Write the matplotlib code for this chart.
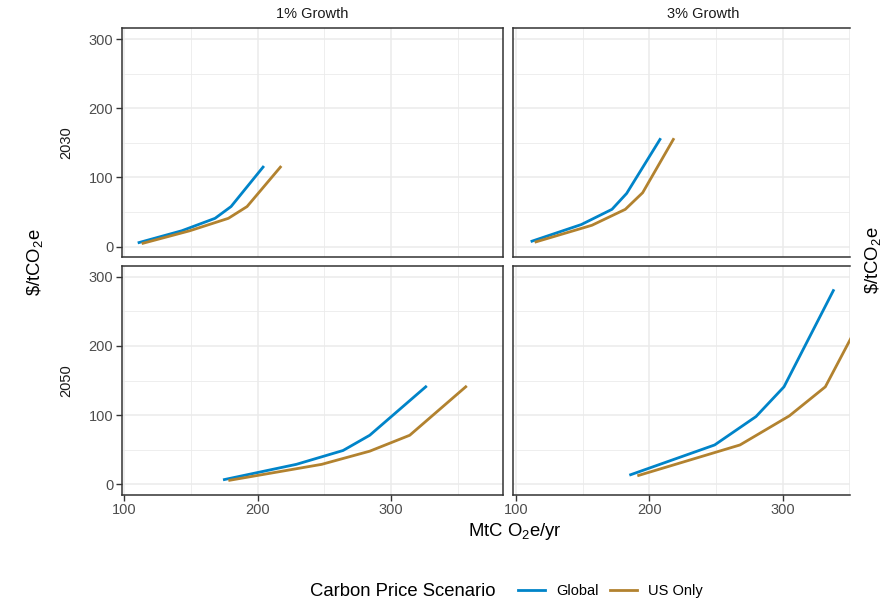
import numpy as np
import matplotlib as mpl
import matplotlib.pyplot as plt
from matplotlib.lines import Line2D

# emissions (MtCO2e/yr) vs carbon price ($/tCO2e), one pair of lists per panel
g1_2030_x = [111, 143, 168, 180, 204]
g1_2030_y = [6, 23, 41, 58, 115]
u1_2030_x = [114, 149, 178, 192, 217]
u1_2030_y = [5, 23, 41, 58, 115]

g3_2030_x = [112, 149, 172, 183, 208]
g3_2030_y = [8, 32, 54, 77, 155]
u3_2030_x = [115, 157, 182, 195, 218]
u3_2030_y = [7, 31, 54, 78, 155]

g1_2050_x = [175, 229, 264, 284, 326]
g1_2050_y = [7, 29, 49, 71, 141]
u1_2050_x = [179, 248, 284, 314, 356]
u1_2050_y = [6, 29, 48, 71, 141]

g3_2050_x = [186, 249, 280, 301, 338]
g3_2050_y = [14, 57, 98, 141, 280]
u3_2050_x = [192, 268, 305, 332, 370]
u3_2050_y = [13, 57, 99, 141, 280]

col_labels = ['1% Growth', '3% Growth']
row_labels = ['2030', '2050']
series_names = ['Global', 'US Only']
colors = ['#0084C9', '#B2822F']

mpl.rcParams['font.family'] = ['Liberation Sans', 'DejaVu Sans']
mpl.rcParams['mathtext.fontset'] = 'custom'
mpl.rcParams['mathtext.rm'] = 'Liberation Sans'
mpl.rcParams['mathtext.it'] = 'Liberation Sans:italic'

small = 10.5
big = 13.3

panels = {
    (0, 0): [(g1_2030_x, g1_2030_y), (u1_2030_x, u1_2030_y)],
    (0, 1): [(g3_2030_x, g3_2030_y), (u3_2030_x, u3_2030_y)],
    (1, 0): [(g1_2050_x, g1_2050_y), (u1_2050_x, u1_2050_y)],
    (1, 1): [(g3_2050_x, g3_2050_y), (u3_2050_x, u3_2050_y)],
}

W, H = 884, 606
fig = plt.figure(figsize=(W / 100, H / 100), dpi=100)

lefts = [121.7, 513.3]
rights = [503.0, 850.0]
tops = [28.3, 266.0]
bottoms = [257.3, 495.0]
x_lo = 98.0
px_per_x = 1.3335

for (r, c), lines in panels.items():
    l, rt = lefts[c], rights[c]
    ax = fig.add_axes([l / W, 1 - bottoms[r] / H, (rt - l) / W, (bottoms[r] - tops[r]) / H])
    ax.set_xlim(x_lo, x_lo + (rt - l) / px_per_x)
    ax.set_ylim(-15.3, 315.5)
    ax.set_xticks([100, 200, 300])
    ax.set_xticks([150, 250, 350], minor=True)
    ax.set_yticks([0, 100, 200, 300])
    ax.set_yticks([50, 150, 250], minor=True)
    ax.grid(True, which='major', color='#EBEBEB', lw=1.1)
    ax.grid(True, which='minor', color='#EBEBEB', lw=0.6)
    ax.set_axisbelow(True)
    for (xs, ys), col in zip(lines, colors):
        ax.plot(xs, ys, color=col, lw=2)
    for s in ax.spines.values():
        s.set_color('#333333')
        s.set_linewidth(1.1)
    if c == 1:
        ax.spines['right'].set_visible(False)
    ax.tick_params(which='minor', length=0)
    ax.tick_params(which='major', length=4, width=1, color='#333333',
                   labelcolor='#4D4D4D', labelsize=small, pad=2)
    if r == 0:
        ax.tick_params(axis='x', bottom=False, labelbottom=False)
    if c == 1:
        ax.tick_params(axis='y', left=False, labelleft=False)

for c, lab in enumerate(col_labels):
    xc = [312, 703][c]
    fig.text(xc / W, 1 - 14.5 / H, lab, ha='center', va='center', fontsize=small, color='#1A1A1A')
for r, lab in enumerate(row_labels):
    yc = (tops[r] + bottoms[r]) / 2
    fig.text(66 / W, 1 - yc / H, lab, ha='center', va='center', rotation=90,
             fontsize=small, color='#1A1A1A')

ylab = r'\$/tCO$_2$e'
fig.text(35 / W, 1 - 262 / H, ylab, ha='center', va='center', rotation=90, fontsize=big)
fig.text(873 / W, 1 - 260 / H, ylab, ha='center', va='center', rotation=90, fontsize=big)
fig.text(515 / W, 1 - 532 / H, r'MtC O$_2$e/yr', ha='center', va='center', fontsize=big)

# legend at the bottom
fig.text(310 / W, 1 - 591 / H, 'Carbon Price Scenario', ha='left', va='center', fontsize=big)
handles = [Line2D([], [], color=col, lw=2) for col in colors]
fig.legend(handles, series_names, loc='center left', bbox_to_anchor=(518 / W, 1 - 591 / H),
           ncol=2, frameon=False, fontsize=small, handlelength=1.85, handletextpad=0.75,
           columnspacing=0.8, borderaxespad=0, borderpad=0)

fig.savefig('out.png', dpi=100)
